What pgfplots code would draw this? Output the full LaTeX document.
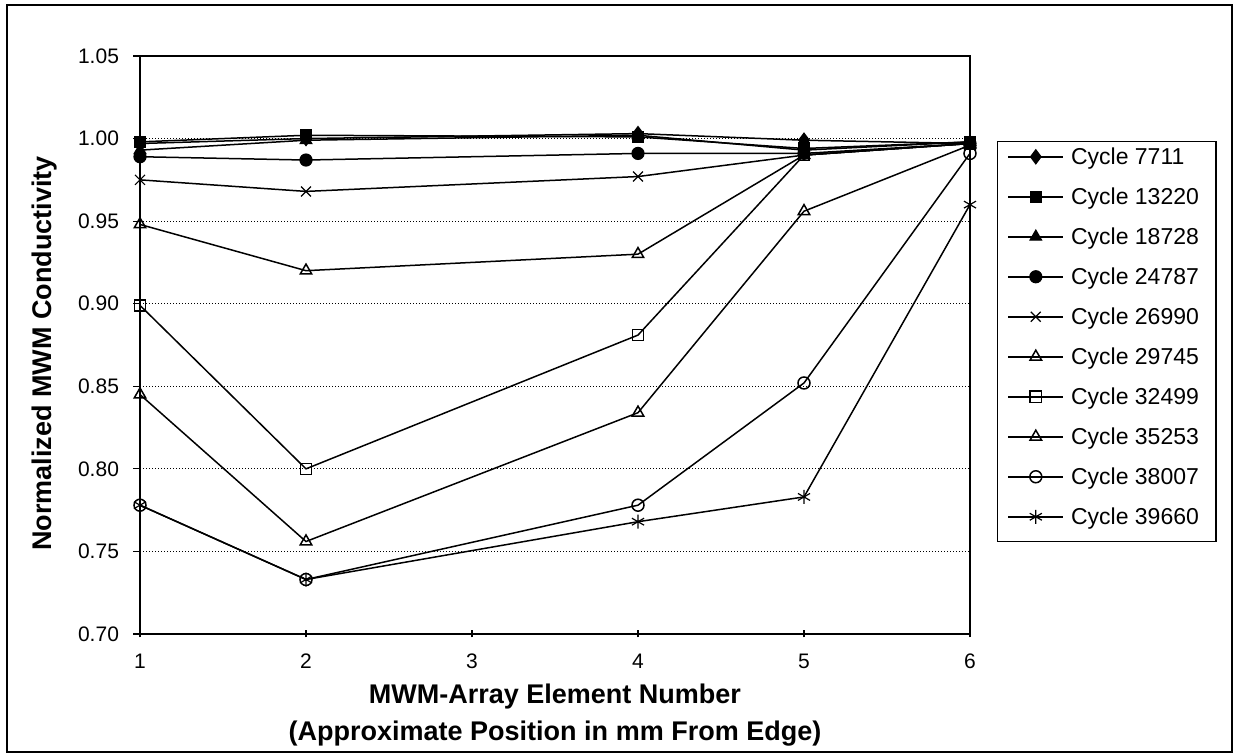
\documentclass[border=0pt]{standalone}
\usepackage{fontspec}
\setmainfont{Liberation Sans}
\usepackage{pgfplots}
\pgfplotsset{compat=1.18}
\begin{document}
\begin{tikzpicture}
\useasboundingbox (0,0) rectangle (618.5pt,377.5pt);
\draw[line width=0.8pt] (3.5pt,1.5pt) rectangle (616pt,375pt);
\begin{axis}[
  scale only axis, width=415pt, height=289pt,
  at={(70pt,60.5pt)}, anchor=south west,
  xmin=1, xmax=6, ymin=0.70, ymax=1.05,
  xtick={1,2,3,4,5,6}, xticklabels={1,2,3,4,5,6},
  ytick={0.70,0.75,0.80,0.85,0.90,0.95,1.00,1.05},
  yticklabels={0.70,0.75,0.80,0.85,0.90,0.95,1.00,1.05},
  xtick pos=left, ytick pos=left,
  tick align=outside, major tick length=3.5pt,
  tick style={black, line width=0.6pt},
  xtick style={yshift=1.75pt},
  axis line style={black, line width=0.9pt},
  ymajorgrids,
  major grid style={black, line width=0.6pt, dash pattern=on 0.6pt off 0.9pt},
  tick label style={font=\fontsize{10.5}{12}\selectfont},
  yticklabel style={xshift=-3.5pt},
  xticklabel style={yshift=-3pt},
  xlabel={MWM-Array Element Number\\(Approximate Position in mm From Edge)},
  xlabel style={font=\bfseries\fontsize{13.5}{18.5}\selectfont, align=center,
    at={(axis description cs:0.5,0)}, anchor=north, inner sep=0pt, yshift=-25pt},
  ylabel={Normalized MWM Conductivity},
  ylabel style={font=\bfseries\fontsize{13.5}{16}\selectfont,
    at={(axis description cs:-0.1145,0.485)}, anchor=center},
  every axis plot/.append style={black, line width=0.75pt, mark size=3pt,
    mark options={solid, line width=0.6pt}},
  legend style={at={(1.0325,0.853)}, anchor=north west, draw=black, line width=0.6pt,
    font=\fontsize{11.5}{13}\selectfont, inner xsep=5pt, inner ysep=0pt,
    row sep=0pt, column sep=0pt,
    nodes={inner xsep=3.5pt, inner ysep=0pt, text height=11.7pt, text depth=8.3pt}},
  legend cell align=left,
  legend image code/.code={\draw[mark repeat=2,mark phase=2,#1] plot coordinates {(0pt,2.4pt) (13.75pt,2.4pt) (27.5pt,2.4pt)};},
]
\addplot[mark=diamond*, mark size=3.5pt] coordinates {(1,0.997) (2,1.000) (4,1.003) (5,0.999) (6,0.997)};
\addlegendentry{Cycle 7711}
\addplot[mark=square*, mark size=2.8pt] coordinates {(1,0.998) (2,1.002) (4,1.001) (5,0.994) (6,0.998)};
\addlegendentry{Cycle 13220}
\addplot[mark=triangle*, mark size=3.3pt] coordinates {(1,0.993) (2,0.999) (4,1.002) (5,0.993) (6,0.998)};
\addlegendentry{Cycle 18728}
\addplot[mark=*, mark size=3pt] coordinates {(1,0.989) (2,0.987) (4,0.991) (5,0.991) (6,0.997)};
\addlegendentry{Cycle 24787}
\addplot[mark=x, mark size=3.5pt] coordinates {(1,0.975) (2,0.968) (4,0.977) (5,0.990) (6,0.997)};
\addlegendentry{Cycle 26990}
\addplot[mark=triangle, mark size=3.3pt, mark options={fill=white}] coordinates {(1,0.948) (2,0.920) (4,0.930) (5,0.990) (6,0.997)};
\addlegendentry{Cycle 29745}
\addplot[mark=square, mark size=2.8pt, mark options={fill=white}] coordinates {(1,0.899) (2,0.800) (4,0.881) (5,0.990) (6,0.997)};
\addlegendentry{Cycle 32499}
\addplot[mark=triangle, mark size=3.3pt, mark options={fill=white}] coordinates {(1,0.845) (2,0.756) (4,0.834) (5,0.956) (6,0.996)};
\addlegendentry{Cycle 35253}
\addplot[mark=o, mark size=3pt, mark options={fill=white}] coordinates {(1,0.778) (2,0.733) (4,0.778) (5,0.852) (6,0.991)};
\addlegendentry{Cycle 38007}
\addplot[mark=asterisk, mark size=3.5pt] coordinates {(1,0.778) (2,0.733) (4,0.768) (5,0.783) (6,0.960)};
\addlegendentry{Cycle 39660}
\end{axis}
\end{tikzpicture}
\end{document}
